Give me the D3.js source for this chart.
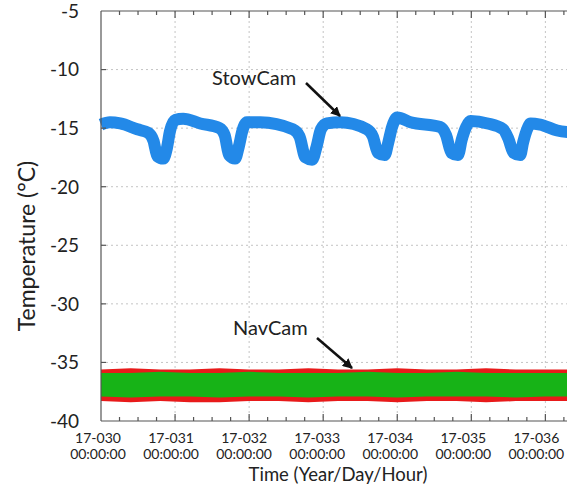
<!DOCTYPE html>
<html>
<head>
<meta charset="utf-8">
<script src="https://cdn.jsdelivr.net/npm/d3@7"></script>
<style>
	body {margin: 0; background: #fff}
	svg {display: block; font-family: Lato, "Open Sans", sans-serif}
</style>
</head>
<body>
<svg width="567" height="490"></svg>
<script>
'use strict';
// StowCam: [day since 17-030, °C] (centre of the noisy band)
let aStowDay = [0.00, 0.12, 0.26, 0.49, 0.64, 0.71, 0.76, 0.84, 0.89, 0.93, 1.00, 1.11, 1.34, 1.60, 1.67,
	1.73, 1.81, 1.86, 1.91, 1.97, 2.15, 2.59, 2.68, 2.76, 2.85, 2.91, 2.97, 3.05, 3.23, 3.59, 3.67, 3.74,
	3.83, 3.88, 3.93, 4.00, 4.18, 4.58, 4.66, 4.73, 4.82, 4.87, 4.93, 4.99, 5.22, 5.43, 5.50, 5.57, 5.66,
	5.70, 5.76, 5.80, 5.93, 6.16, 6.40]
let aStowTemp = [-14.7, -14.5, -14.6, -15.1, -15.4, -16.1, -17.4, -17.6, -16.7, -15.3, -14.3, -14.2, -14.6, -15.0, -15.6,
	-17.3, -17.6, -16.6, -15.2, -14.5, -14.5, -15.1, -15.7, -17.5, -17.7, -16.6, -15.1, -14.6, -14.5, -15.1, -15.7, -17.1,
	-17.3, -16.2, -14.9, -14.1, -14.5, -14.9, -15.6, -17.1, -17.3, -16.0, -14.9, -14.4, -14.6, -15.1, -15.9, -17.1, -17.3,
	-16.2, -15.0, -14.6, -14.7, -15.2, -15.4]

// NavCam: outer (red) and inner (green) envelopes of the noise band
let aNavDay = [0.0, 0.4, 0.8, 1.2, 1.6, 2.0, 2.4, 2.8, 3.2, 3.6, 4.0, 4.4, 4.8, 5.2, 5.6, 6.0, 6.4]
let aRedHi = [-35.6, -35.5, -35.6, -35.6, -35.5, -35.6, -35.6, -35.5, -35.6, -35.6, -35.5, -35.6, -35.6, -35.5, -35.6, -35.6, -35.6]
let aRedLo = [-38.3, -38.4, -38.3, -38.4, -38.4, -38.3, -38.3, -38.4, -38.3, -38.3, -38.4, -38.3, -38.3, -38.4, -38.3, -38.3, -38.3]
let aGreenHi = [-35.9, -35.9, -35.8, -35.9, -35.9, -35.8, -35.9, -35.9, -35.9, -35.8, -35.9, -35.9, -35.8, -35.9, -35.9, -35.9, -35.9]
let aGreenLo = [-37.9, -38.0, -37.9, -37.9, -38.0, -37.9, -37.9, -38.0, -37.9, -37.9, -38.0, -37.9, -37.9, -37.9, -38.0, -37.9, -37.9]

let aDayTicks = [0, 1, 2, 3, 4, 5, 6]
let aDayLabels = ["17-030", "17-031", "17-032", "17-033", "17-034", "17-035", "17-036"]
let aTempTicks = [-5, -10, -15, -20, -25, -30, -35, -40]

let eSvg = d3.select("svg")
let sX = d3.scaleLinear().domain([0, 6.4]).range([101, 575])
let sY = d3.scaleLinear().domain([-40, -5]).range([421, 11])

// grid
let eGrid = eSvg.append("g").attr("stroke", "#c4c4c4").attr("stroke-dasharray", "2,3")
eGrid.selectAll(".gx").data(aDayTicks.slice(1)).enter().append("line")
	.attr("x1", d => sX(d)).attr("x2", d => sX(d)).attr("y1", sY(-5)).attr("y2", sY(-40))
eGrid.selectAll(".gy").data(aTempTicks.slice(1, -1)).enter().append("line")
	.attr("x1", sX(0)).attr("x2", 567).attr("y1", d => sY(d)).attr("y2", d => sY(d))

// NavCam bands
let fBand = (lo, hi) => d3.area().x((d, i) => sX(d)).y0((d, i) => sY(lo[i])).y1((d, i) => sY(hi[i]))
eSvg.append("path").datum(aNavDay).attr("fill", "#e81a1a").attr("d", fBand(aRedLo, aRedHi))
eSvg.append("path").datum(aNavDay).attr("fill", "#17b317").attr("d", fBand(aGreenLo, aGreenHi))

// StowCam
eSvg.append("path").datum(aStowDay)
	.attr("fill", "none").attr("stroke", "#2389e8").attr("stroke-width", 12)
	.attr("stroke-linejoin", "round")
	.attr("d", d3.line().x(d => sX(d)).y((d, i) => sY(aStowTemp[i])).curve(d3.curveMonotoneX))

// axes, ticks drawn inward
let eAx = eSvg.append("g").attr("stroke", "#555").attr("stroke-width", 1.2)
eAx.append("line").attr("x1", sX(0)).attr("x2", 567).attr("y1", sY(-40)).attr("y2", sY(-40))
eAx.append("line").attr("x1", sX(0)).attr("x2", 567).attr("y1", sY(-5)).attr("y2", sY(-5))
eAx.append("line").attr("x1", sX(0)).attr("x2", sX(0)).attr("y1", sY(-5)).attr("y2", sY(-40))
let aMinor = d3.range(1, 26).map(i => i / 4).filter(d => d % 1 !== 0)
eAx.selectAll(".tmaj").data(aDayTicks.slice(1)).enter().append("path")
	.attr("d", d => `M${sX(d)},${sY(-40)}v-7M${sX(d)},${sY(-5)}v7`)
eAx.selectAll(".tmin").data(aMinor).enter().append("path")
	.attr("d", d => `M${sX(d)},${sY(-40)}v-4M${sX(d)},${sY(-5)}v4`)
eAx.selectAll(".ty").data(aTempTicks.slice(1, -1)).enter().append("path")
	.attr("d", d => `M${sX(0)},${sY(d)}h5`)

// tick labels
eSvg.append("g").selectAll("text").data(aTempTicks).enter().append("text")
	.attr("x", 79).attr("y", d => sY(d)).attr("dy", "0.36em")
	.attr("text-anchor", "end").attr("font-size", 19).attr("fill", "#222")
	.text(d => d)
let eXl = eSvg.append("g").attr("font-size", 14).attr("fill", "#222").attr("text-anchor", "middle")
eXl.selectAll(".l1").data(aDayTicks).enter().append("text")
	.attr("x", d => sX(d) - 3 - d).attr("y", 443).text((d, i) => aDayLabels[i])
eXl.selectAll(".l2").data(aDayTicks).enter().append("text")
	.attr("x", d => sX(d) - 3 - d).attr("y", 459).text("00:00:00")

// titles
eSvg.append("text").attr("x", 338).attr("y", 481).attr("text-anchor", "middle")
	.attr("font-size", 18.5).attr("fill", "#222").text("Time (Year/Day/Hour)")
eSvg.append("text").attr("transform", "translate(35,246) rotate(-90)").attr("text-anchor", "middle")
	.attr("font-size", 23).attr("fill", "#222").text("Temperature (°C)")

// annotations
eSvg.append("defs").append("marker").attr("id", "head")
	.attr("viewBox", "0 0 10 10").attr("refX", 9).attr("refY", 5)
	.attr("markerWidth", 4).attr("markerHeight", 4).attr("orient", "auto")
	.append("path").attr("d", "M0,0L10,5L0,10z").attr("fill", "#111")
eSvg.append("text").attr("x", 212).attr("y", 85).attr("font-size", 20).attr("fill", "#222").text("StowCam")
eSvg.append("line").attr("x1", 306).attr("y1", 83).attr("x2", 340).attr("y2", 116)
	.attr("stroke", "#111").attr("stroke-width", 2.5).attr("marker-end", "url(#head)")
eSvg.append("text").attr("x", 233).attr("y", 335).attr("font-size", 20).attr("fill", "#222").text("NavCam")
eSvg.append("line").attr("x1", 317).attr("y1", 338).attr("x2", 352).attr("y2", 368)
	.attr("stroke", "#111").attr("stroke-width", 2.5).attr("marker-end", "url(#head)")
</script>
</body>
</html>
